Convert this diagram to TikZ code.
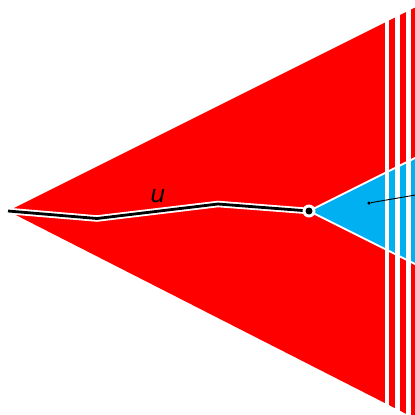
\documentclass[tikz,border=0pt]{standalone}
\usepackage{fontspec}
\setmainfont{DejaVu Sans}
\definecolor{wedgered}{RGB}{255,0,0}
\definecolor{wedgeblue}{RGB}{0,176,240}
\tikzset{
  cased/.style={line width=6.5bp, white, line join=miter},
  core/.style={line width=2.8bp, black, line join=miter},
  dot/.style={circle, fill=black, inner sep=0pt, minimum size=#1}
}

\begin{document}
\begin{tikzpicture}[x=1bp,y=-1bp]
			\useasboundingbox (0,0) rectangle (415,415);
			\clip (0,0) rectangle (415,415);
			% Main wedge
			\fill[wedgered] (8,211) -- (430,0) -- (430,426) -- cycle;
			% Inner wedge
			\coordinate (tip) at (309,211);
			\draw[white, line width=2pt, fill=wedgeblue] (tip) -- (430,150.5) -- (430,271.5) -- cycle;
			% Gaps at the edge
			\fill[white] (385,0) rectangle (388.5,415);
			\fill[white] (394.5,0) rectangle (400,415);
			\fill[white] (406,0) rectangle (411,415);
			% Path u
			\coordinate (p0) at (8,211);
			\coordinate (p1) at (97,218.5);
			\coordinate (p2) at (218,204);
			\draw[cased] (p0) -- (p1) -- (p2) -- (tip);
			\draw[core] (p0) -- (p1) -- (p2) -- (tip);
			\node[circle, fill=white, inner sep=0pt, minimum size=13bp] (ring) at (tip) {};
			\node[dot=7bp] (end) at (tip) {};
			\node[font=\itshape\fontsize{24}{24}\selectfont] (u) at (158,196) {u};
			% Marker in the inner wedge
			\node[dot=3.5bp] (mark) at (369,203) {};
			\coordinate (out) at (430,192.5);
			\draw[line width=0.9pt] (mark) -- (out);
		\end{tikzpicture}
\end{document}
